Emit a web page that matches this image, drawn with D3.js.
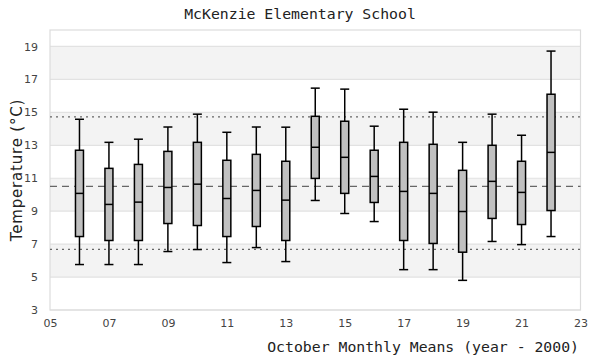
<!DOCTYPE html>
<html><head><meta charset="utf-8">
<script src="https://cdn.jsdelivr.net/npm/d3@7"></script>
<style>body{margin:0;background:#fff}svg{display:block}</style>
</head><body><svg id="c" width="600" height="360"></svg>
<script>
const years   = [6,7,8,9,10,11,12,13,14,15,16,17,18,19,20,21,22];
const maxVals = [14.58,13.18,13.37,14.11,14.89,13.79,14.11,14.10,16.47,16.41,14.16,15.19,15.01,13.18,14.89,13.61,18.72];
const q3Vals  = [12.70,11.60,11.84,12.63,13.18,12.09,12.45,12.03,14.76,14.46,12.70,13.18,13.06,11.48,13.00,12.03,16.10];
const medVals = [10.08,9.41,9.55,10.44,10.64,9.77,10.26,9.67,12.88,12.27,11.11,10.20,10.08,8.98,10.81,10.14,12.57];
const q1Vals  = [7.46,7.22,7.22,8.25,8.13,7.46,8.07,7.22,10.99,10.08,9.53,7.22,7.04,6.51,8.56,8.19,9.04];
const minVals = [5.76,5.76,5.76,6.55,6.67,5.88,6.79,5.94,9.65,8.86,8.37,5.45,5.45,4.80,7.16,6.97,7.46];
const meanLine = 10.50, lowLine = 6.68, highLine = 14.72;
const xTicks = [5,7,9,11,13,15,17,19,21,23];
const yTicks = [3,5,7,9,11,13,15,17,19];
const bands = [[5,7],[9,11],[13,15],[17,19]];

const svg = d3.select("#c");
const L=50, R=580.5, T=30, B=310;
const x = d3.scaleLinear().domain([5,23]).range([L,R]);
const y = d3.scaleLinear().domain([3,20]).range([B,T]);

// bands
svg.append("g").selectAll("rect").data(bands).join("rect")
  .attr("x",L).attr("width",R-L)
  .attr("y",d=>y(d[1])).attr("height",d=>y(d[0])-y(d[1]))
  .attr("fill","#f3f3f3");
// gridlines
svg.append("g").selectAll("line").data(yTicks).join("line")
  .attr("x1",L).attr("x2",R).attr("y1",d=>y(d)).attr("y2",d=>y(d))
  .attr("stroke","#e2e2e2").attr("stroke-width",1.2);
// border
svg.append("rect").attr("x",L).attr("y",T).attr("width",R-L).attr("height",B-T)
  .attr("fill","none").attr("stroke","#dcdcdc").attr("stroke-width",1.2);

// reference lines
svg.append("line").attr("x1",L).attr("x2",R).attr("y1",y(meanLine)).attr("y2",y(meanLine))
  .attr("stroke","#666").attr("stroke-width",1.2).attr("stroke-dasharray","7,5");
[lowLine, highLine].forEach(v=>{
  svg.append("line").attr("x1",L).attr("x2",R).attr("y1",y(v)).attr("y2",y(v))
    .attr("stroke","#666").attr("stroke-width",1.2).attr("stroke-dasharray","2,4");
});

// axes
const xAxis = svg.append("g").attr("transform",`translate(0,${B})`)
  .call(d3.axisBottom(x).tickValues(xTicks).tickSize(0).tickPadding(9).tickFormat(d=>d3.format("02d")(d)));
const yAxis = svg.append("g").attr("transform",`translate(${L},0)`)
  .call(d3.axisLeft(y).tickValues(yTicks).tickSize(0).tickPadding(12).tickFormat(d3.format("d")));
[xAxis,yAxis].forEach(a=>{
  a.select(".domain").remove();
  a.selectAll("text").attr("font-family","DejaVu Sans, sans-serif").attr("font-size",11).attr("fill","#444");
});

// boxes
const data = years.map((yr,i)=>({yr,max:maxVals[i],q3:q3Vals[i],med:medVals[i],q1:q1Vals[i],min:minVals[i]}));
const bw = 8, cw = 9;
const g = svg.append("g").selectAll("g").data(data).join("g");
g.append("line").attr("x1",d=>x(d.yr)).attr("x2",d=>x(d.yr))
  .attr("y1",d=>y(d.max)).attr("y2",d=>y(d.min)).attr("stroke","#000").attr("stroke-width",1.5);
g.append("line").attr("x1",d=>x(d.yr)-cw/2).attr("x2",d=>x(d.yr)+cw/2)
  .attr("y1",d=>y(d.max)).attr("y2",d=>y(d.max)).attr("stroke","#000").attr("stroke-width",1.5);
g.append("line").attr("x1",d=>x(d.yr)-cw/2).attr("x2",d=>x(d.yr)+cw/2)
  .attr("y1",d=>y(d.min)).attr("y2",d=>y(d.min)).attr("stroke","#000").attr("stroke-width",1.5);
g.append("rect").attr("x",d=>x(d.yr)-bw/2).attr("width",bw)
  .attr("y",d=>y(d.q3)).attr("height",d=>y(d.q1)-y(d.q3))
  .attr("fill","#c0c0c0").attr("stroke","#000").attr("stroke-width",1.5);
g.append("line").attr("x1",d=>x(d.yr)-bw/2).attr("x2",d=>x(d.yr)+bw/2)
  .attr("y1",d=>y(d.med)).attr("y2",d=>y(d.med)).attr("stroke","#000").attr("stroke-width",1.5);

// titles
svg.append("text").attr("x",300).attr("y",19).attr("text-anchor","middle")
  .attr("font-family","DejaVu Sans Mono, monospace").attr("font-size",14.8).attr("fill","#222")
  .text("McKenzie Elementary School");
svg.append("text").attr("x",579).attr("y",352).attr("text-anchor","end")
  .attr("font-family","DejaVu Sans Mono, monospace").attr("font-size",14.8).attr("fill","#222")
  .text("October Monthly Means (year - 2000)");
svg.append("text").attr("transform",`translate(22,${(T+B)/2}) rotate(-90)`).attr("text-anchor","middle")
  .attr("font-family","DejaVu Sans, sans-serif").attr("font-size",15).attr("fill","#222")
  .attr("letter-spacing",0.8)
  .text("Temperature (°C)");
</script></body></html>
